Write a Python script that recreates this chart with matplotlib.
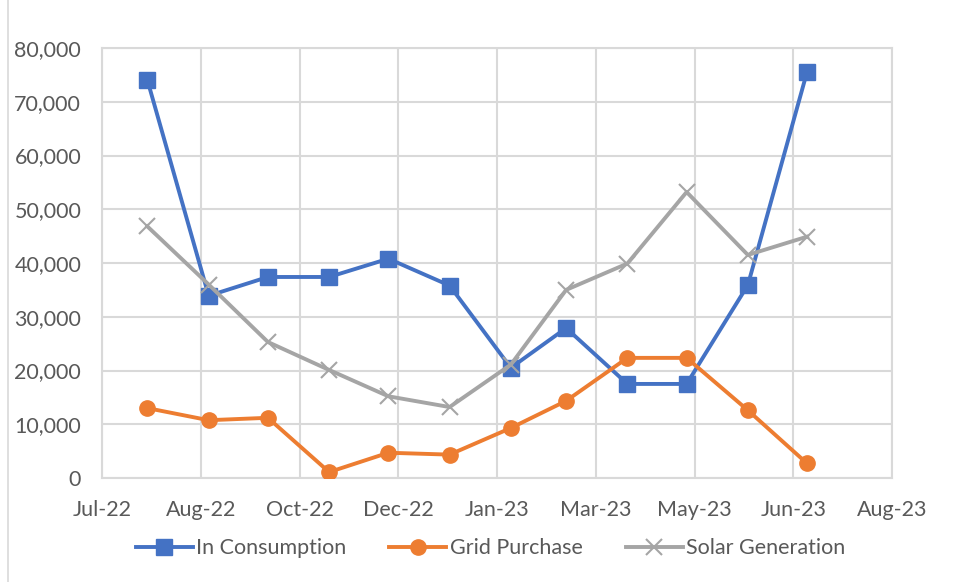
import matplotlib
matplotlib.use("Agg")
import matplotlib.pyplot as plt
import matplotlib.dates as mdates
from matplotlib.ticker import FuncFormatter, MultipleLocator
from matplotlib.lines import Line2D
import numpy as np

dates = ["2022-07-31", "2022-08-31", "2022-09-30", "2022-10-31", "2022-11-30", "2022-12-31",
         "2023-01-31", "2023-02-28", "2023-03-31", "2023-04-30", "2023-05-31", "2023-06-30"]
in_consumption = [74000, 33900, 37400, 37400, 40800, 35800, 20500, 27900, 17500, 17500, 35900, 75600]
grid_purchase = [13000, 10750, 11200, 1100, 4700, 4350, 9300, 14350, 22350, 22350, 12600, 2700]
solar_generation = [46800, 36000, 25300, 20100, 15200, 13200, 21100, 35000, 39900, 53200, 41500, 44900]
series_names = ["In Consumption", "Grid Purchase", "Solar Generation"]

x_start = "2022-07-08"
x_end = "2023-08-12"
x_step_days = 50

plt.rcParams['font.family'] = ['Lato', 'DejaVu Sans']
text_color = "#595959"
grid_color = "#D9D9D9"

fig = plt.figure(figsize=(9.56, 5.82), dpi=100)
ax = fig.add_axes([0.1067, 0.1787, 0.8264, 0.7388])

xd = mdates.datestr2num(dates)
x0 = mdates.datestr2num(x_start)
x1 = mdates.datestr2num(x_end)

colors = ["#4472C4", "#ED7D31", "#A5A5A5"]
ax.plot(xd, in_consumption, color=colors[0], lw=2.8, marker='s', ms=11, mec=colors[0], mfc=colors[0], label=series_names[0], zorder=3)
ax.plot(xd, grid_purchase, color=colors[1], lw=2.8, marker='o', ms=11, mec=colors[1], mfc=colors[1], label=series_names[1], zorder=3)
ax.plot(xd, solar_generation, color=colors[2], lw=2.8, marker='x', ms=11, mew=1.5, mec=colors[2], label=series_names[2], zorder=3)

ax.set_xlim(x0, x1)
ax.set_ylim(0, 80000)
ax.set_xticks(np.arange(x0, x1 + 1, x_step_days))
ax.xaxis.set_major_formatter(mdates.DateFormatter('%b-%y'))
ax.yaxis.set_major_locator(MultipleLocator(10000))
ax.yaxis.set_major_formatter(FuncFormatter(lambda v, p: f"{int(v):,}"))

ax.grid(True, color=grid_color, lw=1.5, zorder=0)
for s in ax.spines.values():
    s.set_color(grid_color)
    s.set_linewidth(1.5)
ax.tick_params(axis='both', length=0, labelsize=15.5, colors=text_color)
ax.tick_params(axis='y', pad=15)
ax.tick_params(axis='x', pad=16)

leg = fig.legend(loc='center', bbox_to_anchor=(0.513, 0.058), ncol=3, frameon=False,
                 fontsize=15.5, handlelength=2.65, columnspacing=2.0, handletextpad=0.15,
                 markerscale=1.0)
for t in leg.get_texts():
    t.set_color(text_color)

fig.add_artist(Line2D([8/956, 8/956], [0, 1], color=grid_color, lw=1.2, transform=fig.transFigure))

fig.savefig("out.png", dpi=100, facecolor="white")
